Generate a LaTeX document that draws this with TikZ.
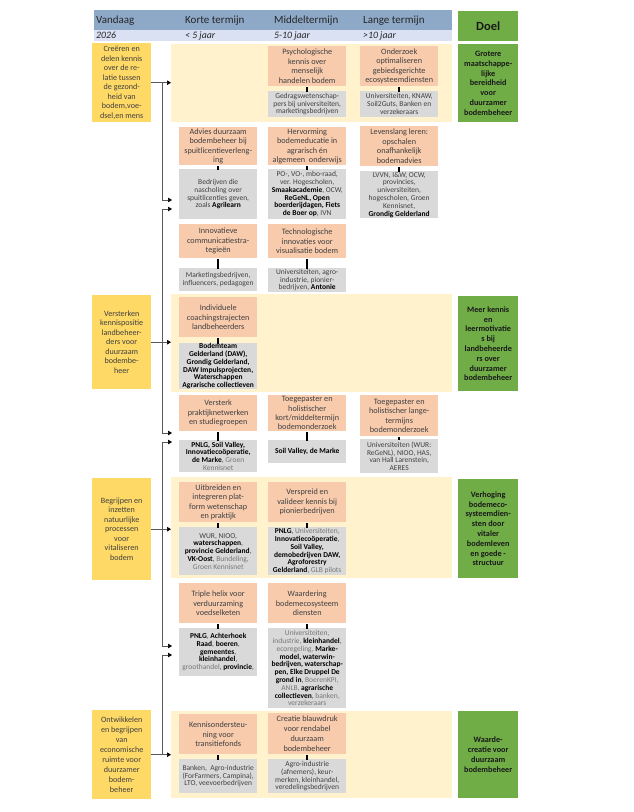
\documentclass[tikz,border=0pt]{standalone}
\usepackage{fontspec}
\setmainfont{Carlito}
\usetikzlibrary{arrows.meta,calc}
\definecolor{hdrblue}{HTML}{8EA9C8}
\definecolor{hdrlight}{HTML}{D9E1F2}
\definecolor{orangebox}{HTML}{F8CBAD}
\definecolor{graybox}{HTML}{D9D9D9}
\definecolor{goldbox}{HTML}{FFD966}
\definecolor{bandcol}{HTML}{FFF2CC}
\definecolor{greenbox}{HTML}{70AD47}
\definecolor{txt}{HTML}{404040}
\definecolor{lighttxt}{HTML}{767676}
\definecolor{hdrtxt}{HTML}{262626}
\newcommand\bb[1]{\textbf{\color{black}#1}}
\newcommand\lgt[1]{{\color{lighttxt}#1}}
\begin{document}
\begin{tikzpicture}[x=1pt,y=-1pt,
  box/.style={rectangle, inner sep=0pt, anchor=north west, align=center},
  obox/.style={box, fill=orangebox, text=txt, font=\fontsize{8.2}{9.4}\selectfont, minimum width=78pt},
  gbox/.style={box, fill=graybox, text=txt, font=\fontsize{7.5}{7.8}\selectfont, minimum width=78pt},
  ybox/.style={box, fill=goldbox, text=txt, font=\fontsize{8.1}{9.5}\selectfont, minimum width=59pt},
  grbox/.style={box, fill=greenbox, text=black!90, font=\bfseries\fontsize{8.2}{9.8}\selectfont, minimum width=60pt},
  band/.style={box, fill=bandcol, minimum width=281pt},
  hdrtext/.style={anchor=west, inner sep=0pt, text=hdrtxt, font=\fontsize{11}{12}\selectfont},
  hdrsub/.style={anchor=west, inner sep=0pt, text=hdrtxt, font=\itshape\fontsize{9.8}{11}\selectfont},
  arr/.style={draw=black!65, line width=0.7pt, -{Triangle[length=4pt,width=4.5pt,color=black]}},
  tick/.style={draw=black, line width=1.6pt}]
\useasboundingbox (0,0) rectangle (634,812);
\fill[white] (0,0) rectangle (634,812);

% header
\node[box, fill=hdrblue, minimum width=358pt, minimum height=20pt] (hdr1) at (94,10) {};
\node[box, fill=hdrlight, minimum width=358pt, minimum height=11pt] (hdr2) at (94,30) {};
\node[box, fill=greenbox, minimum width=60pt, minimum height=30pt, font=\bfseries\fontsize{12.5}{14}\selectfont, text=black!90] (doel) at (458,11) {Doel};
\node[hdrtext] (hVan) at (96,20.5) {Vandaag};
\node[hdrtext] (hKor) at (185,20.5) {Korte termijn};
\node[hdrtext] (hMid) at (274,20.5) {Middeltermijn};
\node[hdrtext] (hLan) at (363,20.5) {Lange termijn};
\node[hdrsub] (sVan) at (96,35.5) {2026};
\node[hdrsub] (sKor) at (185,35.5) {< 5 jaar};
\node[hdrsub] (sMid) at (274,35.5) {5-10 jaar};
\node[hdrsub] (sLan) at (363,35.5) {>10 jaar};

% bands
\node[band, minimum height=78pt] (b1) at (171,44) {};
\node[band, minimum height=98pt] (b2) at (171,294) {};
\node[band, minimum height=101pt] (b3) at (171,477) {};
\node[band, minimum height=87pt] (b4) at (171,711) {};

% yellow boxes
\node[ybox, minimum height=79pt] (y1) at (92,43) {Creëren en\\delen kennis\\over de re-\\latie tussen\\de gezond-\\heid van\\bodem,voe-\\dsel,en mens};
\node[ybox, minimum height=94pt] (y2) at (92,295) {Versterken\\kennispositie\\landbeheer-\\ders voor\\duurzaam\\bodembe-\\heer};
\node[ybox, minimum height=102pt] (y3) at (92,478) {Begrijpen en\\inzetten\\natuurlijke\\processen\\voor\\vitaliseren\\bodem};
\node[ybox, minimum height=89pt, font=\fontsize{8.1}{9.9}\selectfont] (y4) at (92,710) {Ontwikkelen\\en begrijpen\\van\\economische\\ruimte voor\\duurzamer\\bodem-\\beheer};

% green boxes
\node[grbox, minimum height=78pt] (g1) at (458,44) {Grotere\\maatschappe-\\lijke\\bereidheid\\voor\\duurzamer\\bodembeheer};
\node[grbox, minimum height=95pt] (g2) at (458,296) {Meer kennis\\en\\leermotivatie\\s bij\\landbeheerde\\rs over\\duurzamer\\bodembeheer};
\node[grbox, minimum height=99pt] (g3) at (458,479) {Verhoging\\bodemeco-\\systeemdien-\\sten door\\vitaler\\bodemleven\\en goede -\\structuur};
\node[grbox, minimum height=87pt] (g4) at (458,711) {Waarde-\\creatie voor\\duurzaam\\bodembeheer};

% row 1
\node[obox, minimum height=40pt] (psyO) at (268,46) {Psychologische\\kennis over\\menselijk\\handelen bodem};
\node[gbox, minimum height=26pt] (psyG) at (268,91) {Gedragswetenschap-\\pers bij universiteiten,\\marketingsbedrijven};
\node[obox, minimum height=40pt] (ondO) at (360,46) {Onderzoek\\optimaliseren\\gebiedsgerichte\\ecosysteemdiensten};
\node[gbox, minimum height=26pt] (ondG) at (360,91) {Universiteiten, KNAW,\\Soil2Guts, Banken en\\verzekeraars};

% row 2
\node[obox, minimum height=38pt] (advO) at (179,127) {Advies duurzaam\\bodembeheer bij\\spuitlicentieverleng-\\ing};
\node[gbox, minimum height=50pt] (advG) at (179,169) {Bedrijven die\\nascholing over\\spuitlicenties geven,\\zoals \bb{Agrilearn}};
\node[obox, minimum height=38pt] (herO) at (268,127) {Hervorming\\bodemeducatie in\\agrarisch én\\algemeen\ \ onderwijs};
\node[gbox, minimum height=50pt] (herG) at (268,169) {PO-, VO-, mbo-raad,\\ver. Hogescholen,\\\bb{Smaakacademie}, OCW,\\\bb{ReGeNL, Open}\\\bb{boerderijdagen, Fiets}\\\bb{de Boer op}, IVN};
\node[obox, minimum height=40pt] (levO) at (360,126) {Levenslang leren:\\opschalen\\onafhankelijk\\bodemadvies};
\node[gbox, minimum height=47pt] (levG) at (360,171) {LVVN, I\&W, OCW,\\provincies,\\universiteiten,\\hogescholen, Groen\\Kennisnet,\\\bb{Grondig Gelderland}};

% row 3
\node[obox, minimum height=34pt] (innO) at (179,224) {Innovatieve\\communicatiestra-\\tegieën};
\node[gbox, minimum height=23pt] (innG) at (179,268) {Marketingsbedrijven,\\influencers, pedagogen};
\node[obox, minimum height=34pt] (tecO) at (268,224) {Technologische\\innovaties voor\\visualisatie bodem};
\node[gbox, minimum height=24pt] (tecG) at (268,268) {Universiteiten, agro-\\industrie, pionier-\\bedrijven, \bb{Antonie}};

% row 4
\node[obox, minimum height=40pt] (indO) at (179,297) {Individuele\\coachingstrajecten\\landbeheerders};
\node[gbox, minimum height=46pt] (indG) at (179,343) {\bb{Bodemteam}\\\bb{Gelderland (DAW),}\\\bb{Grondig Gelderland,}\\\bb{DAW Impulsprojecten,}\\\bb{Waterschappen}\\\bb{Agrarische collectieven}};

% row 5
\node[obox, minimum height=36pt] (verO) at (179,395) {Versterk\\praktijknetwerken\\en studiegroepen};
\node[gbox, minimum height=32pt] (verG) at (179,440) {\bb{PNLG, Soil Valley,}\\\bb{Innovatiecoöperatie,}\\\bb{de Marke}, \lgt{Groen}\\\lgt{Kennisnet}};
\node[obox, minimum height=36pt] (tkO) at (268,395) {Toegepaster en\\holistischer\\kort/middeltermijn\\bodemonderzoek};
\node[gbox, minimum height=23pt] (tkG) at (268,440) {\bb{Soil Valley, de Marke}};
\node[obox, minimum height=41pt] (tlO) at (360,395) {Toegepaster en\\holistischer lange-\\termijns\\bodemonderzoek};
\node[gbox, minimum height=34pt] (tlG) at (360,439) {Universiteiten (WUR:\\ReGeNL), NIOO, HAS,\\van Hall Larenstein,\\AERES};

% row 6
\node[obox, minimum height=40pt] (uitO) at (179,482) {Uitbreiden en\\integreren plat-\\form wetenschap\\en praktijk};
\node[gbox, minimum height=48pt] (uitG) at (179,527) {WUR, NIOO,\\\bb{waterschappen},\\\bb{provincie Gelderland},\\\bb{VK-Oost}, \lgt{Bundeling,}\\\lgt{Groen Kennisnet}};
\node[obox, minimum height=40pt] (vspO) at (268,482) {Verspreid en\\valideer kennis bij\\pionierbedrijven};
\node[gbox, minimum height=48pt] (vspG) at (268,527) {\bb{PNLG}, \lgt{Universiteiten,}\\\bb{Innovatiecoöperatie},\\\bb{Soil Valley,}\\\bb{demobedrijven DAW,}\\\bb{Agroforestry}\\\bb{Gelderland}, \lgt{GLB pilots}};

% row 7
\node[obox, minimum height=40pt] (triO) at (179,583) {Triple helix voor\\verduurzaming\\voedselketen};
\node[gbox, minimum height=48pt] (triG) at (179,628) {\bb{PNLG}, \bb{Achterhoek}\\\bb{Raad}, \bb{boeren},\\\bb{gemeentes},\\\bb{kleinhandel},\\\lgt{groothandel}, \bb{provincie},};
\node[obox, minimum height=40pt] (waaO) at (268,583) {Waardering\\bodemecosysteem\\diensten};
\node[gbox, minimum height=80pt] (waaG) at (268,628) {\lgt{Universiteiten,}\\\lgt{industrie,} \bb{kleinhandel},\\\lgt{ecoregeling,} \bb{Marke-}\\\bb{model, waterwin-}\\\bb{bedrijven, waterschap-}\\\bb{pen, Elke Druppel De}\\\bb{grond in}, \lgt{BoerenKPI,}\\\lgt{ANLB,} \bb{agrarische}\\\bb{collectieven}, \lgt{banken,}\\\lgt{verzekeraars}};

% row 8
\node[obox, minimum height=40pt] (kenO) at (179,714) {Kennisondersteu-\\ning voor\\transitiefonds};
\node[gbox, minimum height=34pt] (kenG) at (179,759) {Banken,\ \ Agro-industrie\\(ForFarmers, Campina),\\LTO, veevoerbedrijven};
\node[obox, minimum height=41pt, font=\fontsize{8.2}{9.7}\selectfont] (creO) at (268,713) {Creatie blauwdruk\\voor rendabel\\duurzaam\\bodembeheer};
\node[gbox, minimum height=34pt] (creG) at (268,759) {Agro-industrie\\(afnemers), keur-\\merken, kleinhandel,\\veredelingsbedrijven};

% ticks orange -> gray
\foreach \o/\g in {psyO/psyG, ondO/ondG, advO/advG, herO/herG, levO/levG, innO/innG, tecO/tecG,
  indO/indG, verO/verG, tkO/tkG, tlO/tlG, uitO/uitG, vspO/vspG, triO/triG, waaO/waaG, kenO/kenG, creO/creG}
  \draw[tick] ([yshift=-1pt]\o.south) -- ([yshift=-1pt]\o.south |- \g.north);

% connectors from yellow boxes
\foreach \y/\b in {y1/b1, y2/b2, y3/b3, y4/b4}
  \draw[arr] (\y.east) -- (\y.east -| \b.west);
\coordinate (j1) at ([xshift=11pt]y1.east);
\coordinate (j2) at ([xshift=11pt]y2.east);
\coordinate (j3) at ([xshift=11pt]y3.east);
\coordinate (j4) at ([xshift=11pt]y4.east);
\coordinate (a1u) at (172,200);
\coordinate (a1d) at (172,209);
\coordinate (a2u) at (172,433);
\coordinate (a2d) at (172,442);
\coordinate (a3u) at (172,646);
\coordinate (a3d) at (172,655);
\draw[arr] (j1) |- (a1u);
\draw[arr] (j2) |- (a1d);
\draw[arr] (j2) |- (a2u);
\draw[arr] (j3) |- (a2d);
\draw[arr] (j3) |- (a3u);
\draw[arr] (j4) |- (a3d);
\end{tikzpicture}
\end{document}
